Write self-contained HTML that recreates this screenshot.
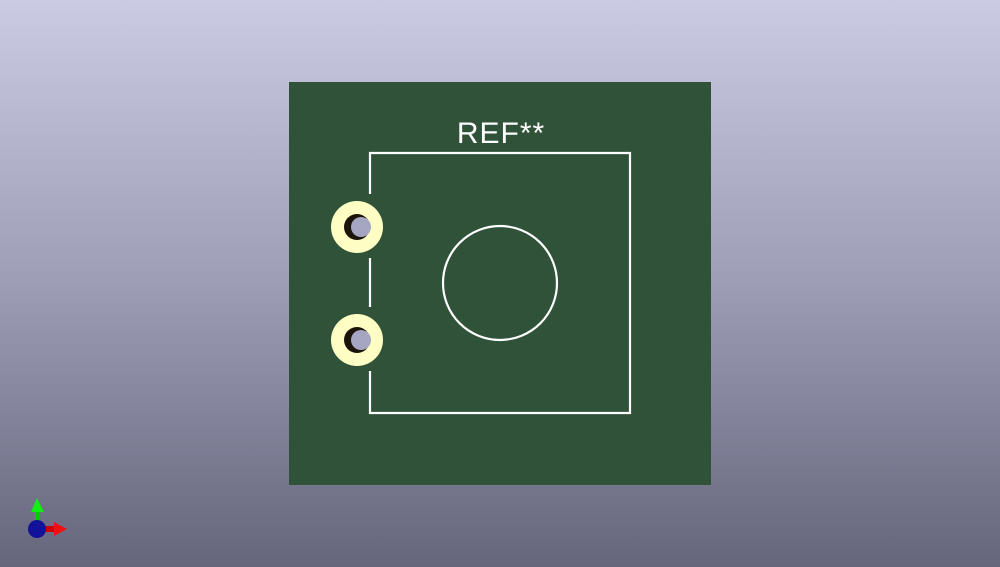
<!DOCTYPE html>
<html><head><meta charset="utf-8"><style>
html,body{margin:0;padding:0;width:1000px;height:567px;overflow:hidden}
body{background:linear-gradient(#cbcbe3,#9d9db6 50%,#65657c)}
</style></head><body>
<svg width="1000" height="567" style="position:absolute;left:0;top:0">
<rect x="289" y="82" width="422" height="403" fill="#2f5239"/>
<g stroke="#fff" stroke-width="2.2" fill="none">
<polyline points="370,194 370,153 630,153 630,413 370,413 370,371"/>
<line x1="370" y1="258" x2="370" y2="307"/>
<circle cx="500" cy="283" r="57"/>
</g>
<text x="501" y="143" text-anchor="middle" font-family="Liberation Sans, sans-serif" font-size="30" fill="#fff" letter-spacing="1">REF**</text>
<g>
<circle cx="357" cy="227" r="26" fill="#fdfdc4"/>
<circle cx="357" cy="227" r="13" fill="#1a1508"/>
<circle cx="361" cy="227" r="10" fill="#a6a6c2"/>
</g>
<g>
<circle cx="357" cy="340" r="26" fill="#fdfdc4"/>
<circle cx="357" cy="340" r="13" fill="#1a1508"/>
<circle cx="361" cy="340" r="10" fill="#a6a6c2"/>
</g>
<g>
<rect x="35" y="510" width="5" height="16" fill="#0c0"/>
<polygon points="31,512 37,498 44,512" fill="#1e1"/>
<rect x="40" y="526" width="16" height="6" fill="#c00"/>
<polygon points="54,522 67,529 54,536" fill="#e11"/>
<circle cx="37" cy="529" r="9" fill="#11119a"/>
</g>
</svg>
</body></html>
